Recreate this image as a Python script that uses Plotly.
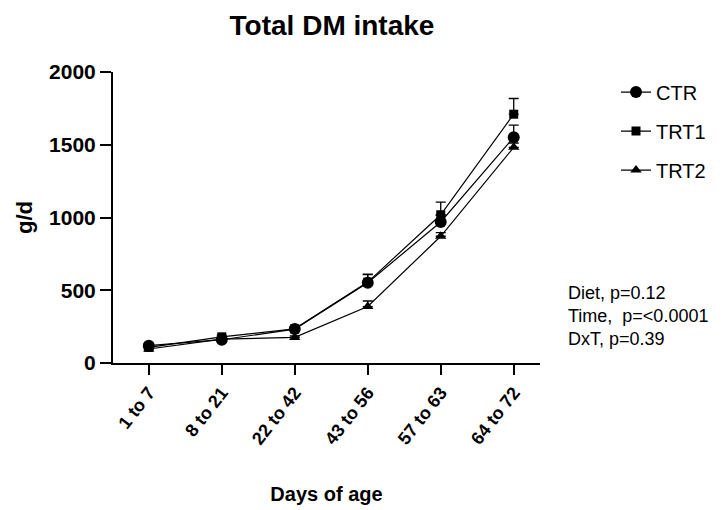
import plotly.graph_objects as go

categories = ["1 to 7", "8 to 21", "22 to 42", "43 to 56", "57 to 63", "64 to 72"]
ctr = [119, 160, 233, 552, 969, 1551]
trt1 = [107, 180, 235, 556, 1019, 1710]
trt2 = [96, 164, 176, 388, 871, 1482]
ctr_err = [15, 12, 15, 55, 45, 84]
trt1_err = [12, 12, 12, 55, 87, 108]
trt2_err = [10, 10, 10, 38, 25, 30]

xpos = list(range(len(categories)))

fig = go.Figure()
series = [("CTR", ctr, ctr_err, "circle", 12),
          ("TRT1", trt1, trt1_err, "square", 9),
          ("TRT2", trt2, trt2_err, "triangle-up", 10)]
for name, vals, err, sym, size in series:
    fig.add_trace(go.Scatter(
        x=xpos, y=vals, name=name, mode="lines+markers",
        line=dict(color="black", width=1.2),
        marker=dict(symbol=sym, size=size, color="black"),
        error_y=dict(type="data", array=err, arrayminus=[0]*len(err), symmetric=False,
                     color="black", thickness=1.3, width=5),
        legendgroup=name,
    ))

font_family = "Liberation Sans, Arial, sans-serif"
W, H = 716, 502
fig.update_layout(
    width=W, height=H,
    margin=dict(l=105, r=184, t=64, b=147),
    paper_bgcolor="white", plot_bgcolor="white",
    font=dict(family=font_family, color="black"),
    title=dict(text="<b>Total DM intake</b>", x=(332 - 8) / W, xanchor="center",
               y=1 - 17 / H, yanchor="middle",
               font=dict(size=28, family=font_family, color="black")),
    showlegend=True,
    legend=dict(x=1.178, y=0.998, xanchor="left", yanchor="top",
                font=dict(size=20, family=font_family, color="black"),
                tracegroupgap=10, bgcolor="rgba(0,0,0,0)"),
    xaxis=dict(range=[-0.49, 5.36], tickmode="array", tickvals=xpos, ticktext=categories,
               tickangle=-52, showline=True, linecolor="black", linewidth=2,
               ticks="outside", ticklen=10, tickwidth=2, tickcolor="black",
               showgrid=False, zeroline=False, automargin=False,
               tickfont=dict(size=18, family=font_family, color="black", weight="bold"),
               title=dict(text="<b>Days of age</b>", font=dict(size=20, family=font_family), standoff=40)),
    yaxis=dict(range=[0, 2000], tickvals=[0, 500, 1000, 1500, 2000],
               showline=True, linecolor="black", linewidth=2,
               ticks="outside", ticklen=11, tickwidth=2, tickcolor="black",
               showgrid=False, zeroline=False, automargin=False,
               tickfont=dict(size=21, family=font_family, color="black", weight="bold"),
               title=dict(text="<b>g/d</b>", font=dict(size=22, family=font_family), standoff=10)),
)
for i, txt in enumerate(["Diet, p=0.12", "Time,  p=<0.0001", "DxT, p=0.39"]):
    fig.add_annotation(x=(566 - 113) / 427, y=(363 - 293 - 23 * i) / 291, xref="paper", yref="paper",
                       text=txt, showarrow=False, xanchor="left", yanchor="middle",
                       font=dict(size=18, family=font_family, color="black"))

fig.write_html("out.html")
